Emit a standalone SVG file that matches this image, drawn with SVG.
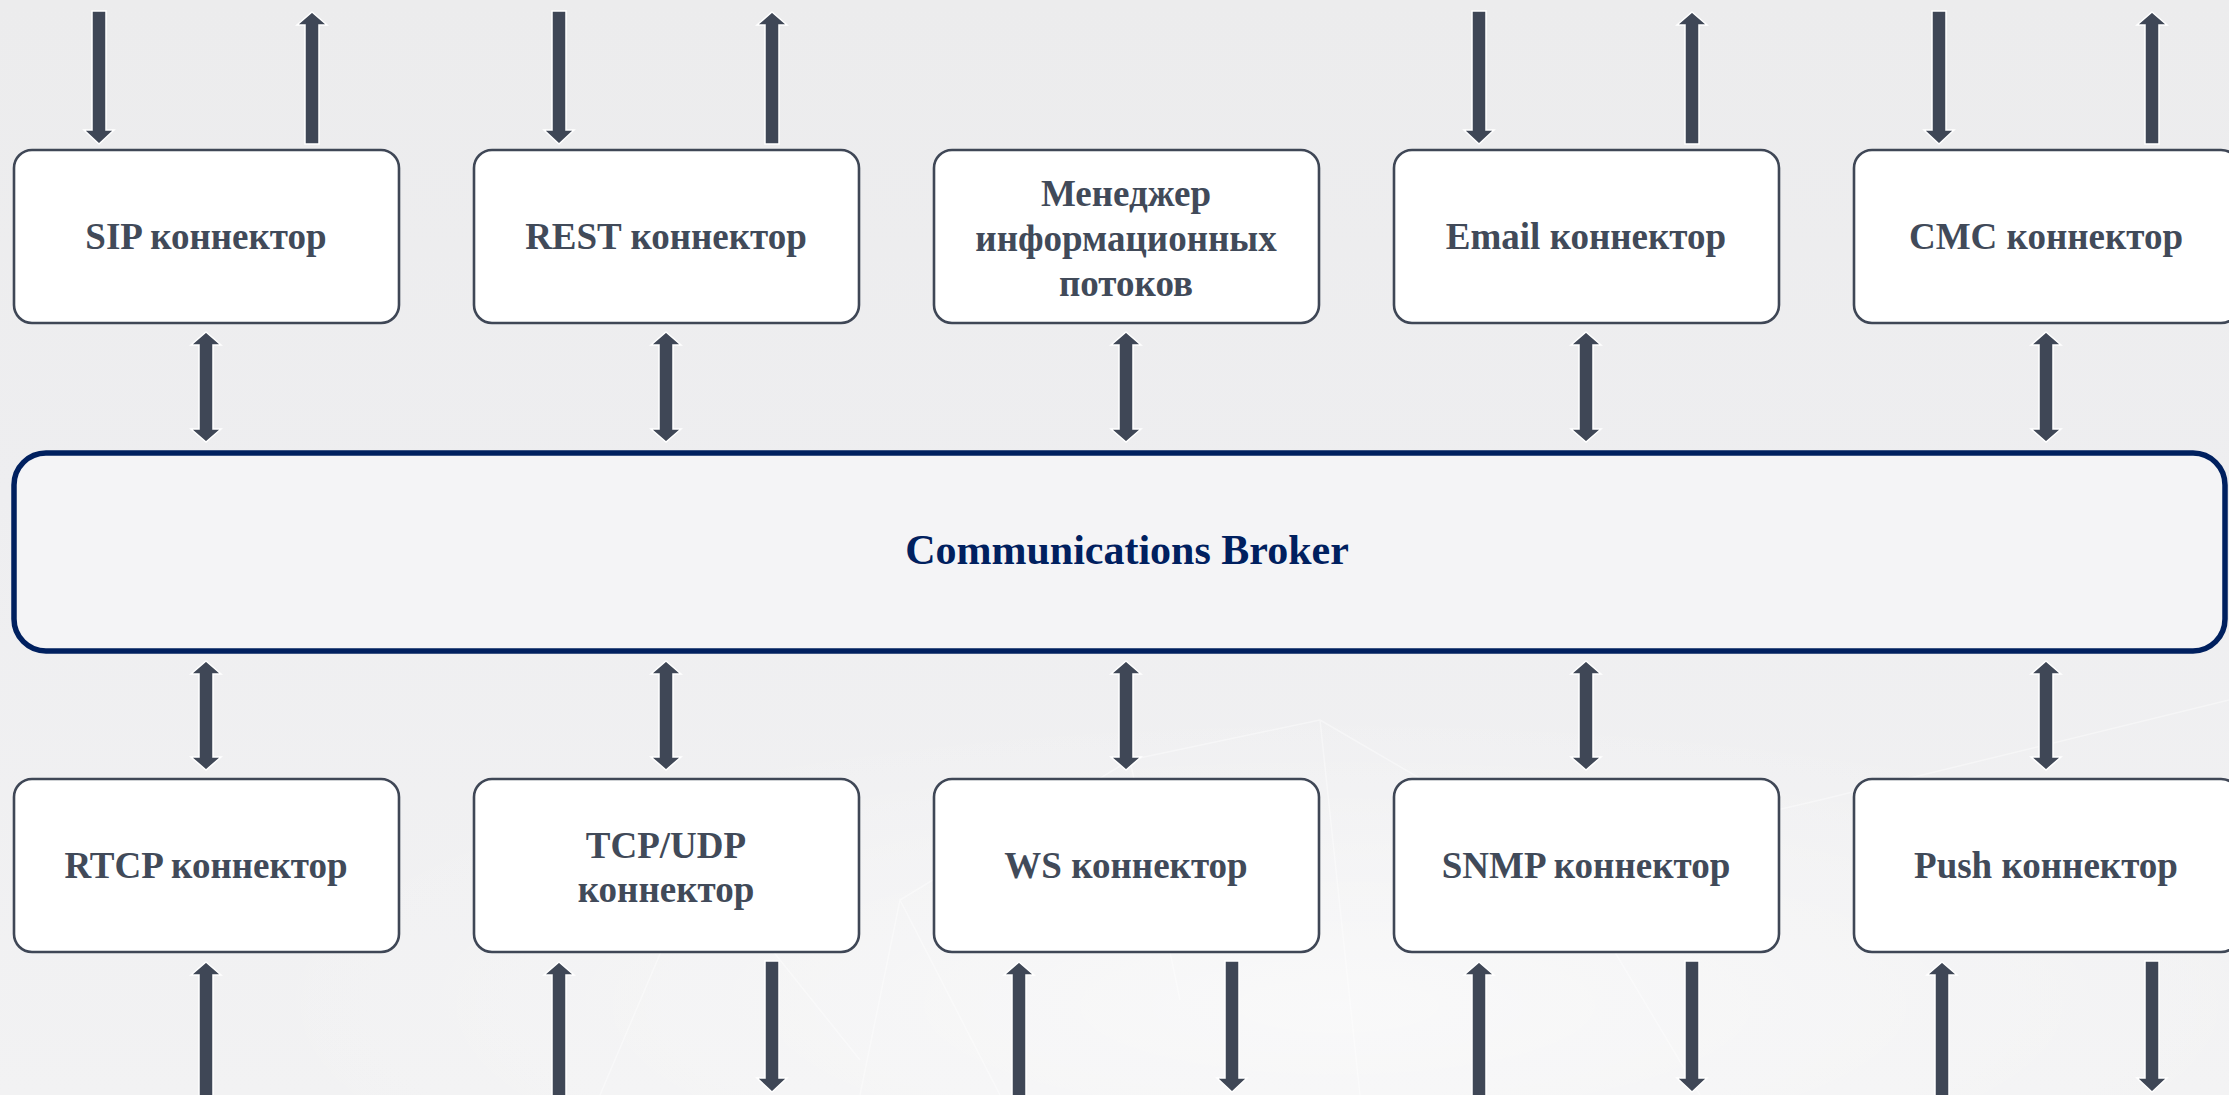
<svg xmlns="http://www.w3.org/2000/svg" width="2229" height="1095" viewBox="0 0 2229 1095">
<defs>
<linearGradient id="bg" x1="0" y1="0" x2="0" y2="1">
<stop offset="0" stop-color="#ececed"/>
<stop offset="0.45" stop-color="#eeeef0"/>
<stop offset="1" stop-color="#f2f2f3"/>
</linearGradient>
<radialGradient id="glow" cx="0.6" cy="0.85" r="0.5">
<stop offset="0" stop-color="#ffffff" stop-opacity="0.55"/>
<stop offset="1" stop-color="#ffffff" stop-opacity="0"/>
</radialGradient>
<style>
.box{fill:#ffffff;stroke:#3f4756;stroke-width:2.6}
.broker{fill:#f4f4f6;stroke:#00205f;stroke-width:5.5}
.lbl{font-family:"Liberation Serif","Times New Roman",serif;font-weight:bold;font-size:37px;fill:#414a59;text-anchor:middle}
.blbl{font-family:"Liberation Serif","Times New Roman",serif;font-weight:bold;font-size:42px;fill:#00205f;text-anchor:middle}
.arr{fill:#3f4756;stroke:#ffffff;stroke-width:1.5;stroke-linejoin:miter}
.net{stroke:#ffffff;stroke-width:1.5;fill:none;opacity:0.4}
</style>
</defs>
<rect x="0" y="0" width="2229" height="1095" fill="url(#bg)"/>
<rect x="0" y="500" width="2229" height="595" fill="url(#glow)"/>
<g id="background-network">
<path class="net" d="M860 1095 L900 900 L1000 1095 M900 900 L1130 760 L1320 720 M1320 720 L1360 1095 M1130 760 L1180 1000 M1320 720 L1560 860 L1820 800 M1560 860 L1700 1095 M1820 800 L2229 700 M600 1095 L700 860 L860 1060"/>
</g>
<g id="connectors">
<!-- top external arrows -->
<polygon class="arr" points="92,11 106,11 106,130 114,130 99,144 84,130 92,130"/>
<polygon class="arr" points="312,12 327,25 319,25 319,144 305,144 305,25 297,25"/>
<polygon class="arr" points="552,11 566,11 566,130 574,130 559,144 544,130 552,130"/>
<polygon class="arr" points="772,12 787,25 779,25 779,144 765,144 765,25 757,25"/>
<polygon class="arr" points="1472,11 1486,11 1486,130 1494,130 1479,144 1464,130 1472,130"/>
<polygon class="arr" points="1692,12 1707,25 1699,25 1699,144 1685,144 1685,25 1677,25"/>
<polygon class="arr" points="1932,11 1946,11 1946,130 1954,130 1939,144 1924,130 1932,130"/>
<polygon class="arr" points="2152,12 2167,25 2159,25 2159,144 2145,144 2145,25 2137,25"/>
<!-- upper double arrows -->
<polygon class="arr" points="206,332 221,345 213,345 213,429 221,429 206,442 191,429 199,429 199,345 191,345"/>
<polygon class="arr" points="666,332 681,345 673,345 673,429 681,429 666,442 651,429 659,429 659,345 651,345"/>
<polygon class="arr" points="1126,332 1141,345 1133,345 1133,429 1141,429 1126,442 1111,429 1119,429 1119,345 1111,345"/>
<polygon class="arr" points="1586,332 1601,345 1593,345 1593,429 1601,429 1586,442 1571,429 1579,429 1579,345 1571,345"/>
<polygon class="arr" points="2046,332 2061,345 2053,345 2053,429 2061,429 2046,442 2031,429 2039,429 2039,345 2031,345"/>
<!-- lower double arrows -->
<polygon class="arr" points="206,661 221,674 213,674 213,757 221,757 206,770 191,757 199,757 199,674 191,674"/>
<polygon class="arr" points="666,661 681,674 673,674 673,757 681,757 666,770 651,757 659,757 659,674 651,674"/>
<polygon class="arr" points="1126,661 1141,674 1133,674 1133,757 1141,757 1126,770 1111,757 1119,757 1119,674 1111,674"/>
<polygon class="arr" points="1586,661 1601,674 1593,674 1593,757 1601,757 1586,770 1571,757 1579,757 1579,674 1571,674"/>
<polygon class="arr" points="2046,661 2061,674 2053,674 2053,757 2061,757 2046,770 2031,757 2039,757 2039,674 2031,674"/>
<!-- bottom external arrows -->
<polygon class="arr" points="206,962 221,975 213,975 213,1096 199,1096 199,975 191,975"/>
<polygon class="arr" points="559,962 574,975 566,975 566,1096 552,1096 552,975 544,975"/>
<polygon class="arr" points="765,961 779,961 779,1078 787,1078 772,1092 757,1078 765,1078"/>
<polygon class="arr" points="1019,962 1034,975 1026,975 1026,1096 1012,1096 1012,975 1004,975"/>
<polygon class="arr" points="1225,961 1239,961 1239,1078 1247,1078 1232,1092 1217,1078 1225,1078"/>
<polygon class="arr" points="1479,962 1494,975 1486,975 1486,1096 1472,1096 1472,975 1464,975"/>
<polygon class="arr" points="1685,961 1699,961 1699,1078 1707,1078 1692,1092 1677,1078 1685,1078"/>
<polygon class="arr" points="1942,962 1957,975 1949,975 1949,1096 1935,1096 1935,975 1927,975"/>
<polygon class="arr" points="2145,961 2159,961 2159,1078 2167,1078 2152,1092 2137,1078 2145,1078"/>
</g>
<g id="node-sip"><rect class="box" x="14" y="150" width="385" height="173" rx="18"/><text class="lbl" x="206" y="249">SIP коннектор</text></g>
<g id="node-rest"><rect class="box" x="474" y="150" width="385" height="173" rx="18"/><text class="lbl" x="666" y="249">REST коннектор</text></g>
<g id="node-manager"><rect class="box" x="934" y="150" width="385" height="173" rx="18"/><text class="lbl" x="1126" y="206">Менеджер</text><text class="lbl" x="1126" y="251">информационных</text><text class="lbl" x="1126" y="296">потоков</text></g>
<g id="node-email"><rect class="box" x="1394" y="150" width="385" height="173" rx="18"/><text class="lbl" x="1586" y="249">Email коннектор</text></g>
<g id="node-cmc"><rect class="box" x="1854" y="150" width="385" height="173" rx="18"/><text class="lbl" x="2046" y="249">СМС коннектор</text></g>
<g id="node-broker"><rect class="broker" x="14" y="453" width="2211" height="198" rx="32"/><text class="blbl" x="1127" y="564">Communications Broker</text></g>
<g id="node-rtcp"><rect class="box" x="14" y="779" width="385" height="173" rx="18"/><text class="lbl" x="206" y="878">RTCP коннектор</text></g>
<g id="node-tcpudp"><rect class="box" x="474" y="779" width="385" height="173" rx="18"/><text class="lbl" x="666" y="858">TCP/UDP</text><text class="lbl" x="666" y="902">коннектор</text></g>
<g id="node-ws"><rect class="box" x="934" y="779" width="385" height="173" rx="18"/><text class="lbl" x="1126" y="878">WS коннектор</text></g>
<g id="node-snmp"><rect class="box" x="1394" y="779" width="385" height="173" rx="18"/><text class="lbl" x="1586" y="878">SNMP коннектор</text></g>
<g id="node-push"><rect class="box" x="1854" y="779" width="385" height="173" rx="18"/><text class="lbl" x="2046" y="878">Push коннектор</text></g>
</svg>
